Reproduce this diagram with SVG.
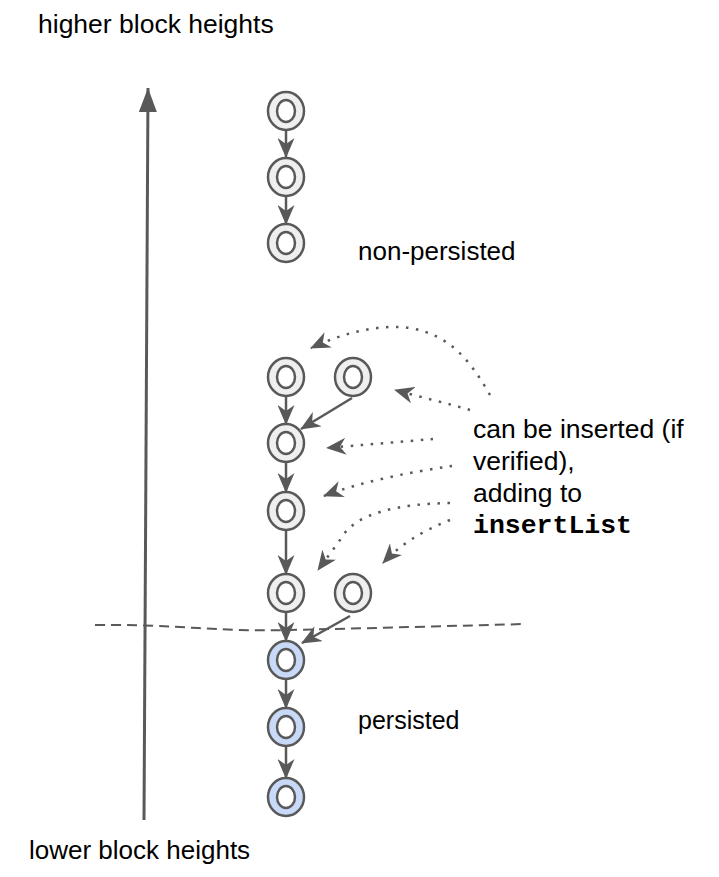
<svg xmlns="http://www.w3.org/2000/svg" width="719" height="877" viewBox="0 0 719 877">
<style>
.lbl{font-family:"Liberation Sans",Arial,sans-serif;fill:#000}
.code{font-family:"Liberation Mono","Courier New",monospace;font-weight:bold;fill:#000}
.node .o{stroke:#595959;stroke-width:2.5}
.node .i{fill:#fff;stroke:#595959;stroke-width:2.5}
.gray .o{fill:#efefef}
.blue .o{fill:#c9daf8}
.edge{stroke:#595959;stroke-width:2.5;fill:none;marker-end:url(#ah)}
.dot{stroke:#595959;stroke-width:2.5;fill:none;stroke-dasharray:2.5 7.5;marker-end:url(#ah)}
</style>
<defs>
<marker id="ah" viewBox="0 0 20 17" refX="19" refY="8.5" markerWidth="20" markerHeight="17" markerUnits="userSpaceOnUse" orient="auto">
<path d="M0,0 L20,8.5 L0,17 L6,8.5 z" fill="#595959"/>
</marker>
<marker id="axh" viewBox="0 0 24 18" refX="24" refY="9" markerWidth="24" markerHeight="18" markerUnits="userSpaceOnUse" orient="auto">
<path d="M0,0 L24,9 L0,18 z" fill="#595959"/>
</marker>
</defs>

<g id="labels">
<text class="lbl" x="38" y="33" font-size="26.5">higher block heights</text>
<text class="lbl" x="29" y="859" font-size="26">lower block heights</text>
<text class="lbl" x="358" y="260" font-size="26">non-persisted</text>
<text class="lbl" x="358" y="729" font-size="25">persisted</text>
<text class="lbl" x="473" y="438" font-size="26.5">can be inserted (if</text>
<text class="lbl" x="473" y="470" font-size="26.5">verified),</text>
<text class="lbl" x="473" y="502" font-size="26.5">adding to</text>
<text class="code" x="473" y="533" font-size="26.5">insertList</text>
</g>

<g id="axis">
<line x1="144" y1="820" x2="148" y2="88" stroke="#595959" stroke-width="3" marker-end="url(#axh)"/>
</g>

<g id="boundary">
<path d="M95,625 C180,624 210,632 290,630 C380,628 450,626 525,624" stroke="#595959" stroke-width="2" fill="none" stroke-dasharray="10 6"/>
</g>

<g id="connectors">
<line class="edge" x1="286" y1="130" x2="286" y2="157"/>
<line class="edge" x1="286" y1="196" x2="286" y2="224"/>
<line class="edge" x1="286" y1="396" x2="286" y2="424"/>
<line class="edge" x1="352" y1="398" x2="301" y2="429"/>
<line class="edge" x1="286" y1="462" x2="286" y2="492"/>
<line class="edge" x1="286" y1="530" x2="286" y2="574"/>
<line class="edge" x1="286" y1="612" x2="286" y2="641"/>
<line class="edge" x1="350" y1="616" x2="302" y2="643"/>
<line class="edge" x1="286" y1="679" x2="286" y2="708"/>
<line class="edge" x1="286" y1="746" x2="286" y2="778"/>
<path class="dot" d="M490,395 C470,360 450,335 410,328 C380,324 345,332 311,348"/>
<path class="dot" d="M470,410 C450,404 420,397 395,390"/>
<path class="dot" d="M433,439 C400,442 360,445 327,448"/>
<path class="dot" d="M452,466 C410,472 360,482 324,496"/>
<path class="dot" d="M450,503 C400,504 355,512 340,540 L318,570"/>
<path class="dot" d="M450,520 C420,532 400,545 383,563"/>
</g>

<g id="nodes">
<g id="n1" class="node gray"><ellipse class="o" cx="286" cy="111" rx="18" ry="19"/><ellipse class="i" cx="286" cy="111" rx="9" ry="11"/></g>
<g id="n2" class="node gray"><ellipse class="o" cx="286" cy="177" rx="18" ry="19"/><ellipse class="i" cx="286" cy="177" rx="9" ry="11"/></g>
<g id="n3" class="node gray"><ellipse class="o" cx="286" cy="243" rx="18" ry="19"/><ellipse class="i" cx="286" cy="243" rx="9" ry="11"/></g>
<g id="n4" class="node gray"><ellipse class="o" cx="286" cy="377" rx="18" ry="19"/><ellipse class="i" cx="286" cy="377" rx="9" ry="11"/></g>
<g id="n5" class="node gray"><ellipse class="o" cx="353" cy="377" rx="18" ry="19"/><ellipse class="i" cx="353" cy="377" rx="9" ry="11"/></g>
<g id="n6" class="node gray"><ellipse class="o" cx="286" cy="443" rx="18" ry="19"/><ellipse class="i" cx="286" cy="443" rx="9" ry="11"/></g>
<g id="n7" class="node gray"><ellipse class="o" cx="286" cy="511" rx="18" ry="19"/><ellipse class="i" cx="286" cy="511" rx="9" ry="11"/></g>
<g id="n8" class="node gray"><ellipse class="o" cx="286" cy="593" rx="18" ry="19"/><ellipse class="i" cx="286" cy="593" rx="9" ry="11"/></g>
<g id="n9" class="node gray"><ellipse class="o" cx="353" cy="593" rx="18" ry="19"/><ellipse class="i" cx="353" cy="593" rx="9" ry="11"/></g>
<g id="n10" class="node blue"><ellipse class="o" cx="286" cy="660" rx="18" ry="19"/><ellipse class="i" cx="286" cy="660" rx="9" ry="11"/></g>
<g id="n11" class="node blue"><ellipse class="o" cx="286" cy="727" rx="18" ry="19"/><ellipse class="i" cx="286" cy="727" rx="9" ry="11"/></g>
<g id="n12" class="node blue"><ellipse class="o" cx="286" cy="797" rx="18" ry="19"/><ellipse class="i" cx="286" cy="797" rx="9" ry="11"/></g>
</g>
</svg>
